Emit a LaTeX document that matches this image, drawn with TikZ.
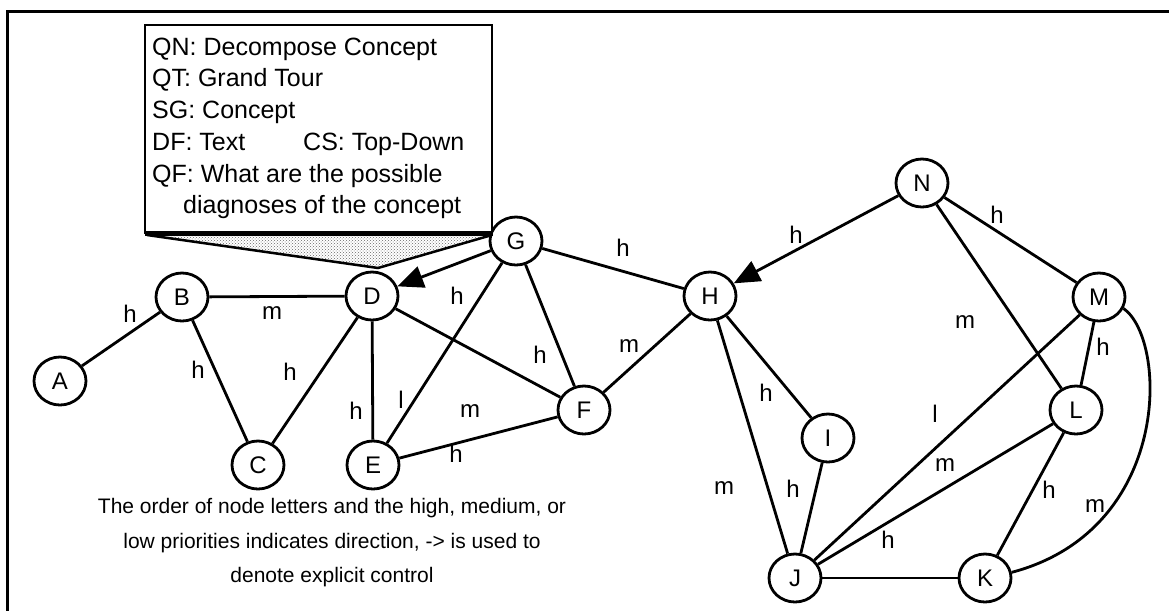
\documentclass[tikz,border=0pt]{standalone}
\usepackage{fontspec}
\setmainfont{Liberation Sans}
\usetikzlibrary{arrows.meta,patterns,shapes.geometric}
\begin{document}
\begin{tikzpicture}[x=1pt,y=-1pt,
  vertex/.style={draw,ellipse,line width=2.8pt,minimum width=52pt,minimum height=48pt,inner sep=0pt,font=\fontsize{24}{28}\selectfont},
  link/.style={line width=2.8pt},
  ctrl/.style={link,-{Triangle[length=26pt,width=22pt]}},
  lbl/.style={inner sep=0pt,font=\fontsize{24}{28}\selectfont},
  boxline/.style={anchor=base west,inner sep=0pt,font=\fontsize{25}{30}\selectfont},
  capline/.style={inner sep=0pt,font=\fontsize{21}{25}\selectfont},
  frame/.style={line width=3pt}
]
\useasboundingbox (0,0) rectangle (1169,611);

% outer frame (top and left rules)
\draw[frame] (1169,11) -- (7,11) -- (7,611);

% nodes
\node[vertex] (A) at (60,381) {A};
\node[vertex] (B) at (182,297) {B};
\node[vertex] (C) at (258,465) {C};
\node[vertex] (D) at (372,296) {D};
\node[vertex] (E) at (373,465) {E};
\node[vertex] (F) at (584,410) {F};
\node[vertex] (G) at (516,241) {G};
\node[vertex] (H) at (710,296) {H};
\node[vertex] (I) at (828,438) {I};
\node[vertex] (J) at (795,578) {J};
\node[vertex] (K) at (985,578) {K};
\node[vertex] (L) at (1076,410) {L};
\node[vertex] (M) at (1099,297) {M};
\node[vertex] (N) at (922,183) {N};

% connectors
\draw[link] (A) -- (B);
\draw[link] (B) -- (D);
\draw[link] (B) -- (C);
\draw[link] (D) -- (C);
\draw[link] (D) -- (E);
\draw[link] (D) -- (F);
\draw[ctrl] (G) -- (D);
\draw[link] (G) -- (E);
\draw[link] (G) -- (F);
\draw[link] (G) -- (H);
\draw[link] (E) -- (F);
\draw[link] (F) -- (H);
\draw[ctrl] (N) -- (H);
\draw[link] (H) -- (I);
\draw[link] (H) -- (J);
\draw[link] (I) -- (J);
\draw[link] (M) -- (J);
\draw[link] (L) -- (J);
\draw[link] (J) -- (K);
\draw[link] (N) -- (M);
\draw[link] (N) -- (L);
\draw[link] (M) -- (L);
\draw[link] (L) -- (K);
\draw[link] (M.-25) .. controls (1168,340) and (1172,530) .. (K.12);

% connector labels
\node[lbl] (lAB) at (130,314) {h};
\node[lbl] (lBD) at (272,313) {m};
\node[lbl] (lBC) at (198,370) {h};
\node[lbl] (lDC) at (290,372) {h};
\node[lbl] (lDE) at (356,411) {h};
\node[lbl] (lGE) at (401,400) {l};
\node[lbl] (lDF) at (470,411) {m};
\node[lbl] (lGD) at (457,296) {h};
\node[lbl] (lGF) at (540,355) {h};
\node[lbl] (lGH) at (623,248) {h};
\node[lbl] (lEF) at (456,454) {h};
\node[lbl] (lFH) at (629,346) {m};
\node[lbl] (lNH) at (796,235) {h};
\node[lbl] (lHI) at (766,393) {h};
\node[lbl] (lHJ) at (724,488) {m};
\node[lbl] (lIJ) at (793,489) {h};
\node[lbl] (lMJ) at (935,414) {l};
\node[lbl] (lLJ) at (945,465) {m};
\node[lbl] (lJK) at (888,540) {h};
\node[lbl] (lNM) at (997,215) {h};
\node[lbl] (lNL) at (965,322) {m};
\node[lbl] (lML) at (1103,347) {h};
\node[lbl] (lLK) at (1049,490) {h};
\node[lbl] (lMK) at (1095,506) {m};

% callout box with its pointer to D
\path[pattern=crosshatch dots,pattern color=gray!80!black] (147,235) -- (378,268) -- (492,235) -- cycle;
\draw[line width=2.5pt] (147,235) -- (378,268) -- (492,235);
\draw[line width=2.5pt,fill=white] (145,25) rectangle (492,233);
\draw[line width=5pt] (145,233) -- (493,233);
\node[boxline] (q1) at (152,55) {QN: Decompose Concept};
\node[boxline] (q2) at (152,86) {QT: Grand Tour};
\node[boxline] (q3) at (152,118) {SG: Concept};
\node[boxline] (q4) at (152,150) {DF: Text};
\node[boxline] (q4b) at (303,150) {CS: Top-Down};
\node[boxline] (q5) at (152,182) {QF: What are the possible};
\node[boxline] (q6) at (183,213) {diagnoses of the concept};

% caption
\node[capline] (cap1) at (332,508) {The order of node letters and the high, medium, or};
\node[capline] (cap2) at (332,543) {low priorities indicates direction, -> is used to};
\node[capline] (cap3) at (332,577) {denote explicit control};
\end{tikzpicture}
\end{document}
